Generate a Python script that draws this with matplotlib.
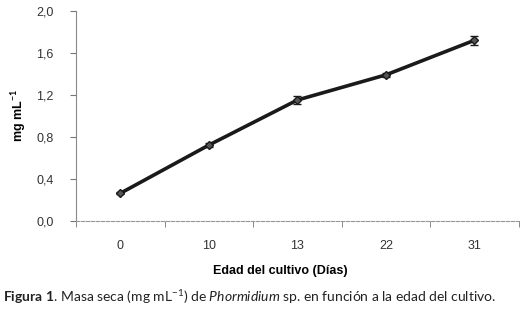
import numpy as np
import matplotlib.pyplot as plt

plt.rcParams['mathtext.fontset'] = 'custom'
plt.rcParams['mathtext.rm'] = 'Lato'
plt.rcParams['mathtext.it'] = 'Lato:italic'
plt.rcParams['mathtext.bf'] = 'Lato:bold'

dias = ["0", "10", "13", "22", "31"]
masa = [0.26, 0.72, 1.15, 1.39, 1.72]
error = [0.01, 0.02, 0.04, 0.02, 0.045]
yticks = [0.0, 0.4, 0.8, 1.2, 1.6, 2.0]
ylabels = ["0,0", "0,4", "0,8", "1,2", "1,6", "2,0"]

fig = plt.figure(figsize=(5.24, 3.12), dpi=100)
ax = fig.add_axes([0.145, 0.293, 0.845, 0.672])

x = np.arange(len(dias))
ax.errorbar(x, masa, yerr=error, color='#1a1a1a', lw=2.6, marker='D', ms=4.5,
            mfc='#555555', mec='#1a1a1a', mew=1, ecolor='#1a1a1a', elinewidth=1,
            capsize=3, capthick=1)

ax.set_xlim(-0.5, len(dias) - 0.5)
ax.set_ylim(0, 2.0)
ax.set_yticks(yticks)
ax.set_yticklabels(ylabels, fontsize=9, color='#333333', family='Liberation Sans')
ax.set_xticks(x)
ax.set_xticklabels(dias, fontsize=9, color='#333333', family='Liberation Sans')
ax.set_xticks(np.arange(-0.5, len(dias)), minor=True)
ax.tick_params(axis='x', which='major', length=0, pad=14)
ax.tick_params(axis='x', which='minor', length=4, color='#777777', direction='out')
ax.tick_params(axis='y', length=4, color='#777777', direction='out', pad=12)

for s in ['top', 'right']:
    ax.spines[s].set_visible(False)
ax.spines['left'].set_color('#888888')
ax.spines['bottom'].set_color('#8aa08a')
ax.spines['bottom'].set_linestyle((0, (3, 1.5)))
ax.spines['bottom'].set_linewidth(0.8)

ax.set_ylabel("mg mL$^{\\mathbf{-1}}$", fontsize=9, fontweight='bold', family='Liberation Sans', labelpad=6)
fig.text(0.535, 0.132, "Edad del cultivo (Días)", fontsize=9, fontweight='bold',
         family='Liberation Sans', ha='center', va='center')

caption = (r"$\mathbf{Figura\ 1}$. Masa seca (mg mL$^{\mathrm{-1}}$) de "
           r"$\mathit{Phormidium}$ sp. en función a la edad del cultivo.")
fig.text(0.006, 0.048, caption, fontsize=10, family='Lato', color='#222222', va='center')

fig.savefig("out.png", dpi=100)
